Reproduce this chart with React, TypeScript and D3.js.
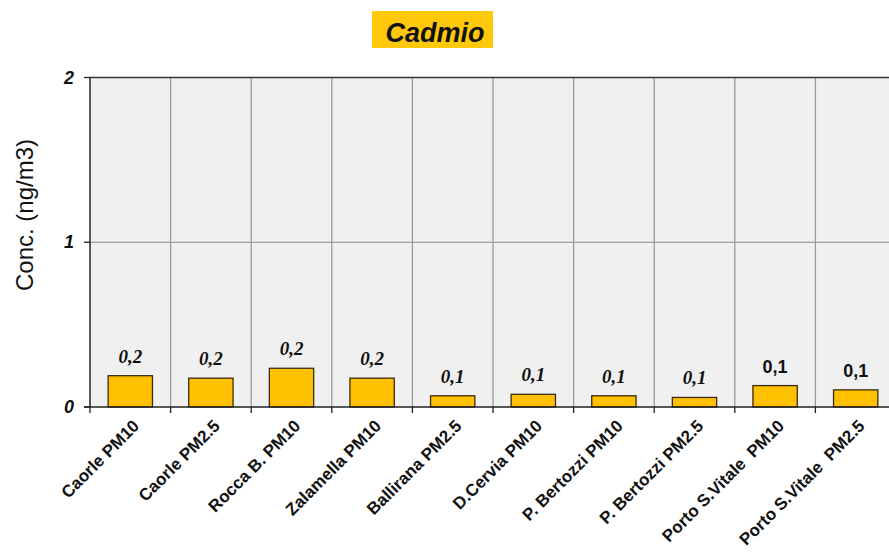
import React from "react";
import * as d3 from "d3";

const categories = [
  "Caorle PM10",
  "Caorle PM2.5",
  "Rocca B. PM10",
  "Zalamella PM10",
  "Ballirana PM2.5",
  "D.Cervia PM10",
  "P. Bertozzi PM10",
  "P. Bertozzi PM2.5",
  "Porto S.Vitale  PM10",
  "Porto S.Vitale  PM2.5",
];
const values = [0.19, 0.175, 0.235, 0.175, 0.068, 0.077, 0.068, 0.058, 0.13, 0.104];
const valueLabels = ["0,2", "0,2", "0,2", "0,2", "0,1", "0,1", "0,1", "0,1", "0,1", "0,1"];
const serifLabel = [true, true, true, true, true, true, true, true, false, false];
const yTicks = [0, 1, 2];
const title = "Cadmio";
const yTitle = "Conc. (ng/m3)";

export default function App() {
  const W = 889;
  const H = 555;
  const left = 90;
  const right = 896;
  const top = 77.5;
  const bottom = 407;

  const x = d3.scaleBand<string>().domain(categories).range([left, right]).paddingInner(0).paddingOuter(0);
  const y = d3.scaleLinear().domain([0, 2]).range([bottom, top]);
  const bw = x.bandwidth();
  const barW = bw * 0.55;

  return (
    <svg width={W} height={H} style={{ position: "absolute", left: 0, top: 0, background: "#fff" }}>
      {/* plot background */}
      <rect x={left} y={top} width={right - left} height={bottom - top} fill="#f0f0f0" />
      {/* horizontal grid */}
      {yTicks.filter((t) => t > 0 && t < 2).map((t) => (
        <line key={"hg" + t} x1={left} x2={right} y1={y(t)} y2={y(t)} stroke="#8a8a8a" strokeWidth={1} />
      ))}
      {/* vertical grid */}
      {categories.slice(1).map((c) => (
        <line key={"vg" + c} x1={x(c)!} x2={x(c)!} y1={top} y2={bottom} stroke="#9a9a9a" strokeWidth={1.3} />
      ))}
      {/* top line */}
      <line x1={left} x2={right} y1={y(2)} y2={y(2)} stroke="#333" strokeWidth={1.5} />
      {/* bars */}
      {categories.map((c, i) => (
        <rect
          key={"b" + c}
          x={x(c)! + (bw - barW) / 2}
          y={y(values[i])}
          width={barW}
          height={y(0) - y(values[i])}
          fill="#FFC000"
          stroke="#3a2a10"
          strokeWidth={1.3}
        />
      ))}
      {/* value labels */}
      {categories.map((c, i) => (
        <text
          key={"vl" + c}
          x={x(c)! + bw / 2}
          y={y(values[i]) - 13}
          textAnchor="middle"
          fontFamily={serifLabel[i] ? "'Liberation Serif', 'DejaVu Serif', serif" : "'Liberation Sans', Arial, sans-serif"}
          fontStyle={serifLabel[i] ? "italic" : "normal"}
          fontWeight="bold"
          fontSize={serifLabel[i] ? 19 : 18}
          fill="#111"
        >
          {valueLabels[i]}
        </text>
      ))}
      {/* axes */}
      <line x1={left} x2={left} y1={top} y2={bottom} stroke="#222" strokeWidth={1.5} />
      <line x1={left - 6} x2={right} y1={bottom} y2={bottom} stroke="#222" strokeWidth={1.5} />
      {yTicks.map((t) => (
        <g key={"yt" + t}>
          <line x1={left - 6} x2={left} y1={y(t)} y2={y(t)} stroke="#222" strokeWidth={1.3} />
          <text
            x={left - 16}
            y={y(t) + 6}
            textAnchor="end"
            fontFamily="'Liberation Sans', Arial, sans-serif"
            fontStyle="italic"
            fontWeight="bold"
            fontSize={18}
            fill="#111"
          >
            {t}
          </text>
        </g>
      ))}
      {categories.map((c) => (
        <line key={"xt" + c} x1={x(c)!} x2={x(c)!} y1={bottom} y2={bottom + 6} stroke="#222" strokeWidth={1.3} />
      ))}
      {categories.map((c) => (
        <text
          key={"xl" + c}
          transform={`translate(${x(c)! + bw / 2 + 10},${bottom + 20}) rotate(-45)`}
          textAnchor="end"
          fontFamily="'Liberation Sans', Arial, sans-serif"
          fontWeight="bold"
          fontSize={17}
          fill="#111"
          style={{ whiteSpace: "pre" }}
        >
          {c}
        </text>
      ))}
      {/* y title */}
      <text
        transform={`translate(33,${215}) rotate(-90)`}
        textAnchor="middle"
        fontFamily="'Liberation Sans', Arial, sans-serif"
        fontSize={24}
        fill="#111"
      >
        {yTitle}
      </text>
      {/* title */}
      <rect x={372} y={11} width={121} height={37} fill="#FFC80A" />
      <text
        x={435}
        y={42}
        textAnchor="middle"
        fontFamily="'Liberation Sans', Arial, sans-serif"
        fontStyle="italic"
        fontWeight="bold"
        fontSize={27}
        fill="#111"
      >
        {title}
      </text>
    </svg>
  );
}
